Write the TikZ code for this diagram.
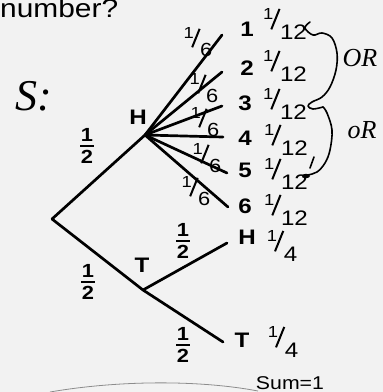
\documentclass[tikz,border=0pt]{standalone}
\usepackage{fontspec}
\setmainfont{Liberation Sans}[FakeStretch=1.15]
\newfontfamily\handfont{Liberation Serif}
\newcommand\slfr[2]{\raisebox{0.95em}{\fontsize{16}{16}\selectfont #1}\kern-0.14em\raisebox{0.5em}{\rotatebox{-22}{\rule{2pt}{1.05em}}}\kern-0.02em#2}
\newcommand\halfst{\vbox{\hbox to 0.7em{\hss 1\hss}\kern3.5pt\hrule height 1.7pt\kern3.5pt\hbox to 0.7em{\hss 2\hss}}}
\begin{document}
\begin{tikzpicture}[x=1pt,y=-1pt,
  br/.style={line width=2.7pt, line cap=round},
  lbl/.style={inner sep=0pt, font=\bfseries\fontsize{21}{21}\selectfont},
  half/.style={inner sep=0pt, font=\bfseries\fontsize{19}{19}\selectfont},
  prob/.style={inner sep=0pt, font=\fontsize{21}{21}\selectfont},
  sixth/.style={inner sep=0pt, font=\fontsize{19}{19}\selectfont},
  hand/.style={inner sep=0pt, font=\handfont\itshape\fontsize{26}{26}\selectfont},
  pen/.style={line width=1.6pt, line cap=round, line join=round}]
\useasboundingbox (0,0) rectangle (383,392);
\fill[black!5] (0,0) rectangle (383,392);
% title
\node[inner sep=0pt, anchor=base west, font=\fontsize{26}{26}\selectfont] (title) at (0,17) {number?};
\node[hand, font=\handfont\itshape\fontsize{44}{44}\selectfont] (s) at (34,96) {S:};
% tree points
\coordinate (root) at (52,219);
\coordinate (hb) at (145,135);
\coordinate (tb) at (143,290);
\coordinate (l1) at (222,35);
\coordinate (l2) at (222,72);
\coordinate (l3) at (222,106);
\coordinate (l4) at (223,137);
\coordinate (l5) at (227,173);
\coordinate (l6) at (228,207);
\coordinate (th) at (227,243);
\coordinate (tt) at (223,342);
\draw[br] (root) -- (hb);
\draw[br] (root) -- (tb) -- (tt);
\draw[br] (tb) -- (th);
\foreach \i in {1,...,6} \draw[br] (hb) -- (l\i);
% labels
\node[lbl] (hlab) at (138,117) {H};
\node[lbl] (tlab) at (142,265) {T};
\node[half] (h1) at (87,146) {\halfst};
\node[half] (h2) at (88,282) {\halfst};
\node[half] (h3) at (183,241) {\halfst};
\node[half] (h4) at (183,345) {\halfst};
\node[lbl] (n1) at (247,29) {1};
\node[lbl] (n2) at (247,68) {2};
\node[lbl] (n3) at (245,103) {3};
\node[lbl] (n4) at (245,138) {4};
\node[lbl] (n5) at (245,170) {5};
\node[lbl] (n6) at (245,206) {6};
\node[lbl] (nh) at (247,237) {H};
\node[lbl] (nt) at (242,340) {T};
\node[prob] (p1) at (285,24) {\slfr{1}{12}};
\node[prob] (p2) at (285,66) {\slfr{1}{12}};
\node[prob] (p3) at (285,104) {\slfr{1}{12}};
\node[prob] (p4) at (286,140) {\slfr{1}{12}};
\node[prob] (p5) at (286,174) {\slfr{1}{12}};
\node[prob] (p6) at (286,210) {\slfr{1}{12}};
\node[prob] (q1) at (282,246) {\slfr{1}{4}};
\node[prob] (q2) at (283,342) {\slfr{1}{4}};
\node[sixth] (s1) at (198,42) {\slfr{1}{6}};
\node[sixth] (s2) at (204,88) {\slfr{1}{6}};
\node[sixth] (s3) at (205,122) {\slfr{1}{6}};
\node[sixth] (s4) at (207,158) {\slfr{1}{6}};
\node[sixth] (s5) at (196,191) {\slfr{1}{6}};
% handwritten braces
\draw[pen] plot[smooth, tension=0.6] coordinates {(310,22) (305,28) (313,35) (322,33) (332,38) (337,53) (336,70) (330,87) (322,97) (312,102) (308,106) (313,109) (323,107)};
\draw[pen] plot[smooth, tension=0.6] coordinates {(323,107) (327,113) (332,130) (330,150) (325,163) (317,172) (308,175) (303,177)};
\draw[pen] (314,157) -- (310,168);
\fill (306,176) ellipse (4pt and 2.2pt);
\node[hand] (or1) at (360,58) {OR};
\node[hand] (or2) at (362,130) {oR};
% bottom
\draw[black!45, line width=0.8pt] (50,392) .. controls (120,380) and (200,380) .. (258,391);
\node[inner sep=0pt, anchor=base, font=\fontsize{18.5}{18.5}\selectfont] (sum) at (290,389) {Sum=1};
\end{tikzpicture}
\end{document}
